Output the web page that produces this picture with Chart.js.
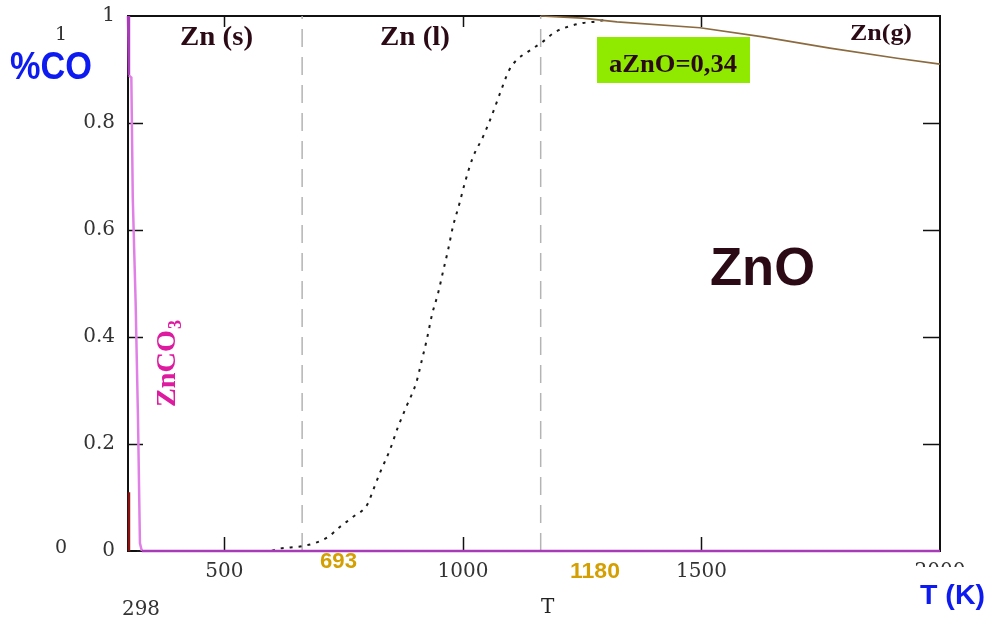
<!DOCTYPE html>
<html>
<head>
<meta charset="utf-8">
<script src="https://cdn.jsdelivr.net/npm/chart.js@4.4.0/dist/chart.umd.min.js"></script>
<style>
html,body{margin:0;padding:0;background:#fff;}
#wrap{width:988px;height:618px;}
</style>
</head>
<body>
<div id="wrap"><canvas id="c" width="988" height="618"></canvas></div>
<script>
// ---- data ----
const xTicks = [500, 1000, 1500, 2000];
const yTicks = [0, 0.2, 0.4, 0.6, 0.8, 1];

// ZnCO3 (magenta) boundary
const znco3T = [298, 300, 300, 305, 308, 314, 319, 323, 327, 2000];
const znco3Y = [1.0, 1.0, 0.889, 0.885, 0.66, 0.464, 0.245, 0.015, 0, 0];

// dark red short segment near 298 K
const redT = [300, 300];
const redY = [0.11, 0];

// black dotted curve (Zn(l)/ZnO)
const dotT = [298, 450, 596, 612, 663, 690, 717, 742, 770, 799, 812, 826, 847, 864, 883, 902, 914, 925, 935, 948, 958, 969, 979, 992, 1004, 1021, 1042, 1061, 1078, 1097, 1113, 1136, 1166, 1193, 1224, 1252, 1273, 1300];
const dotY = [0, 0, 0, 0.004, 0.009, 0.015, 0.026, 0.045, 0.064, 0.086, 0.114, 0.146, 0.189, 0.232, 0.273, 0.314, 0.357, 0.398, 0.441, 0.482, 0.521, 0.563, 0.606, 0.647, 0.688, 0.736, 0.774, 0.815, 0.856, 0.899, 0.918, 0.933, 0.951, 0.970, 0.981, 0.987, 0.989, 0.993];

// brown curve (Zn(g)/ZnO)
const gasT = [1163, 1250, 1323, 1497, 1629, 1769, 1910, 2000];
const gasY = [1.0, 0.996, 0.989, 0.978, 0.961, 0.940, 0.921, 0.910];

// phase-change dashed lines (positions as drawn)
const phaseT = [663, 1163];

const pts = (xs, ys) => xs.map((x, i) => ({x: x, y: ys[i]}));

const SERIF = '"DejaVu Serif", serif';
const TIMES = '"Liberation Serif", "Times New Roman", serif';
const SANS = '"Liberation Sans", Arial, sans-serif';

function txt(ctx, s, x, y, font, color, w) {
  ctx.save();
  ctx.font = font;
  ctx.fillStyle = color;
  ctx.textBaseline = 'alphabetic';
  ctx.textAlign = 'left';
  const m = ctx.measureText(s).width;
  const sx = w ? w / m : 1;
  ctx.translate(x, y);
  ctx.scale(sx, 1);
  ctx.fillText(s, 0, 0);
  ctx.restore();
}

const framePlugin = {
  id: 'frame',
  beforeDatasetsDraw(chart) {
    const ctx = chart.ctx, a = chart.chartArea;
    const xs = chart.scales.x, ys = chart.scales.y;
    ctx.save();
    ctx.strokeStyle = '#111';
    ctx.lineWidth = 2;
    ctx.strokeRect(a.left, a.top, a.right - a.left, a.bottom - a.top);
    ctx.lineWidth = 1.5;
    ctx.beginPath();
    xTicks.filter(v => v < 2000).forEach(v => {
      const px = Math.round(xs.getPixelForValue(v)) + 0.5;
      ctx.moveTo(px, a.bottom); ctx.lineTo(px, a.bottom - 14);
      ctx.moveTo(px, a.top); ctx.lineTo(px, a.top + 11);
    });
    yTicks.filter(v => v > 0 && v < 1).forEach(v => {
      const py = Math.round(ys.getPixelForValue(v)) + 0.5;
      ctx.moveTo(a.left, py); ctx.lineTo(a.left + 15, py);
      ctx.moveTo(a.right, py); ctx.lineTo(a.right - 17, py);
    });
    ctx.stroke();
    ctx.restore();
  }
};

const textPlugin = {
  id: 'texts',
  afterDraw(chart) {
    const ctx = chart.ctx;
    const dark = '#2b0a16';
    // cover lower part of the 2000 tick label
    ctx.save();
    ctx.fillStyle = '#fff';
    ctx.fillRect(905, 567, 80, 18);
    ctx.restore();

    txt(ctx, '%CO', 10, 79, 'bold 38px ' + SANS, '#0d1bf0', 82);
    txt(ctx, 'T (K)', 920, 604, 'bold 27px ' + SANS, '#0d1bf0', 65);

    txt(ctx, '1', 55, 40, '19px ' + SERIF, '#333');
    txt(ctx, '0', 55, 553, '19px ' + SERIF, '#333');
    txt(ctx, '298', 122, 615, '20px ' + SERIF, '#333', 38);
    txt(ctx, 'T', 541, 613, '20px ' + SERIF, '#222');

    txt(ctx, 'Zn (s)', 180, 45, 'bold 27px ' + TIMES, dark, 73);
    txt(ctx, 'Zn (l)', 380, 45, 'bold 27px ' + TIMES, dark, 70);
    txt(ctx, 'Zn(g)', 850, 40, 'bold 24px ' + TIMES, dark, 62);

    ctx.save();
    ctx.fillStyle = '#8fea00';
    ctx.fillRect(597, 37, 153, 46);
    ctx.restore();
    txt(ctx, 'aZnO=0,34', 609, 72, 'bold 26px ' + TIMES, dark, 128);

    txt(ctx, 'ZnO', 710, 285, 'bold 54px ' + SANS, dark, 105);

    txt(ctx, '693', 320, 568, 'bold 22px ' + SANS, '#d49f00', 37);
    txt(ctx, '1180', 570, 578, 'bold 22px ' + SANS, '#d49f00', 50);

    // rotated ZnCO3
    ctx.save();
    ctx.translate(175, 407);
    ctx.rotate(-Math.PI / 2);
    ctx.fillStyle = '#de1aa0';
    ctx.font = 'bold 27px ' + TIMES;
    const m = ctx.measureText('ZnCO').width;
    ctx.save();
    ctx.scale(77 / m, 1);
    ctx.fillText('ZnCO', 0, 0);
    ctx.restore();
    ctx.font = 'bold 18px ' + TIMES;
    ctx.fillText('3', 78, 6);
    ctx.restore();
  }
};

const phaseSets = phaseT.map(t => ({
  data: [{x: t, y: 0}, {x: t, y: 1}],
  borderColor: '#b4b4b4',
  borderWidth: 1.5,
  borderDash: [18, 10],
  pointRadius: 0,
  showLine: true,
  order: 5
}));

new Chart(document.getElementById('c'), {
  type: 'scatter',
  data: {
    datasets: [
      ...phaseSets,
      {
        data: pts(dotT, dotY),
        borderColor: '#1a1a1a',
        borderWidth: 2,
        borderDash: [3, 6],
        pointRadius: 0,
        showLine: true,
        cubicInterpolationMode: 'monotone',
        order: 4
      },
      {
        data: pts(gasT, gasY),
        borderColor: '#8a6a3e',
        borderWidth: 1.6,
        pointRadius: 0,
        showLine: true,
        order: 3
      },
      {
        data: pts(znco3T, znco3Y),
        borderColor: '#c048c8',
        borderWidth: 2.5,
        pointRadius: 0,
        showLine: true,
        segment: {
          borderColor: c => (c.p0DataIndex <= 1 || c.p0DataIndex >= 8) ? '#a83cb8' : '#e080e6'
        },
        order: 2
      },
      {
        data: pts(redT, redY),
        borderColor: '#8b1010',
        borderWidth: 2.5,
        pointRadius: 0,
        showLine: true,
        order: 1
      }
    ]
  },
  options: {
    responsive: false,
    animation: false,
    devicePixelRatio: 1,
    clip: false,
    layout: {padding: {left: 0, top: 16, right: 48, bottom: 37}},
    plugins: {legend: {display: false}, tooltip: {enabled: false}},
    scales: {
      x: {
        type: 'linear',
        min: 298,
        max: 2000,
        afterBuildTicks: s => { s.ticks = xTicks.map(v => ({value: v})); },
        afterFit: s => { s.height = 30; s.paddingLeft = 0; s.paddingRight = 0; },
        grid: {display: false, drawTicks: false},
        border: {display: false},
        ticks: {
          autoSkip: false,
          maxRotation: 0,
          padding: 9,
          color: '#333',
          font: {family: '"DejaVu Serif", serif', size: 20},
          callback: v => String(v)
        }
      },
      y: {
        min: 0,
        max: 1,
        afterBuildTicks: s => { s.ticks = yTicks.map(v => ({value: v})); },
        afterFit: s => { s.width = 128; s.paddingTop = 0; s.paddingBottom = 0; },
        grid: {display: false, drawTicks: false},
        border: {display: false},
        ticks: {
          autoSkip: false,
          padding: 13,
          color: '#333',
          font: {family: '"DejaVu Serif", serif', size: 20},
          callback: v => (v === 0 ? '0' : v === 1 ? '1' : v.toFixed(1))
        }
      }
    }
  },
  plugins: [framePlugin, textPlugin]
});
</script>
</body>
</html>
